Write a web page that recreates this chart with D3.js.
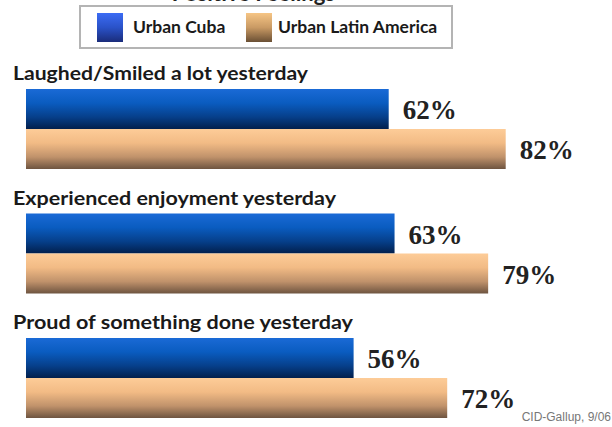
<!DOCTYPE html>
<html>
<head>
<meta charset="utf-8">
<script src="https://cdn.jsdelivr.net/npm/d3@7/dist/d3.min.js"></script>
<style>
  body { margin: 0; background: #fff; }
  svg { display: block; }
</style>
</head>
<body>
<script>
    var categories = ["Laughed/Smiled a lot yesterday", "Experienced enjoyment yesterday", "Proud of something done yesterday"];
    var seriesNames = ["Urban Cuba", "Urban Latin America"];
    var cuba = [62, 63, 56];
    var latam = [82, 79, 72];

    // label widths as they appear in the picture
    var labelWidths = [295, 323, 340];

    var W = 612, H = 427;
    var svg = d3.select("body").append("svg")
        .attr("width", W)
        .attr("height", H);

    var defs = svg.append("defs");

    function grad(id, stops) {
        var g = defs.append("linearGradient")
            .attr("id", id)
            .attr("x1", 0).attr("y1", 0)
            .attr("x2", 0).attr("y2", 1);
        for (var i = 0; i < stops.length; i++) {
            g.append("stop").attr("offset", stops[i][0]).attr("stop-color", stops[i][1]);
        }
    }
    grad("gBlue", [[0, "#1a6ad6"], [0.35, "#0a5cc0"], [0.7, "#063f8a"], [1, "#021f4c"]]);
    grad("gTan", [[0, "#fdcc98"], [0.35, "#f2bb85"], [0.7, "#c0926b"], [1, "#6e5440"]]);
    grad("gBlueLeg", [[0, "#3c6cf4"], [0.5, "#2a52c8"], [1, "#1a2c7a"]]);
    grad("gTanLeg", [[0, "#f6c585"], [0.5, "#c99a64"], [1, "#6a4f34"]]);

    var x = d3.scaleLinear().domain([0, 100]).range([26, 611]);
    var groupY = d3.scaleBand().domain(categories).range([63, 436.5]).paddingInner(0);
    var barH = 40;

    // title, mostly above the top edge as in the source picture
    svg.append("text")
        .attr("x", 335).attr("y", 1)
        .attr("text-anchor", "end")
        .style("font-family", "Lato, sans-serif")
        .style("font-weight", "bold")
        .style("font-size", "22px")
        .attr("fill", "#222")
        .text("Positive Feelings");

    // legend
    var leg = svg.append("g");
    leg.append("rect")
        .attr("x", 80).attr("y", 6)
        .attr("width", 372).attr("height", 42)
        .attr("fill", "#fff")
        .attr("stroke", "#b4b4b4")
        .attr("stroke-width", 2);
    var legItems = [
        {name: seriesNames[0], fill: "url(#gBlueLeg)", sx: 97, tx: 133},
        {name: seriesNames[1], fill: "url(#gTanLeg)", sx: 246, tx: 278}
    ];
    legItems.forEach(function(d) {
        leg.append("rect")
            .attr("x", d.sx).attr("y", 13)
            .attr("width", 26).attr("height", 29)
            .attr("fill", d.fill);
        leg.append("text")
            .attr("x", d.tx).attr("y", 33)
            .style("font-family", "Lato, sans-serif")
            .style("font-weight", "bold")
            .style("font-size", "17.5px")
            .attr("fill", "#1a1a1a")
            .text(d.name);
    });

    var groups = svg.selectAll("g.grp")
        .data(categories)
        .enter()
        .append("g")
        .attr("class", "grp")
        .attr("transform", function(d) { return "translate(0," + groupY(d) + ")"; });

    groups.append("text")
        .attr("x", 13).attr("y", 17)
        .attr("textLength", function(d, i) { return labelWidths[i]; })
        .attr("lengthAdjust", "spacingAndGlyphs")
        .style("font-family", "Lato, sans-serif")
        .style("font-weight", "bold")
        .style("font-size", "19px")
        .attr("fill", "#1a1a1a")
        .text(function(d) { return d; });

    var series = [
        {vals: cuba, fill: "url(#gBlue)", off: 26},
        {vals: latam, fill: "url(#gTan)", off: 66}
    ];

    series.forEach(function(s) {
        groups.append("rect")
            .attr("x", x(0))
            .attr("y", s.off)
            .attr("width", function(d, i) { return x(s.vals[i]) - x(0); })
            .attr("height", barH)
            .attr("fill", s.fill);

        groups.append("text")
            .attr("x", function(d, i) { return x(s.vals[i]) + 14; })
            .attr("y", s.off + 30)
            .style("font-family", "'Liberation Serif', serif")
            .style("font-weight", "bold")
            .style("font-size", "27px")
            .attr("fill", "#222")
            .text(function(d, i) { return s.vals[i] + "%"; });
    });

    svg.append("text")
        .attr("x", 611).attr("y", 421)
        .attr("text-anchor", "end")
        .style("font-family", "'Liberation Sans Narrow', 'Liberation Sans', sans-serif")
        .style("font-size", "12px")
        .attr("fill", "#777")
        .text("CID-Gallup, 9/06");
</script>
</body>
</html>
